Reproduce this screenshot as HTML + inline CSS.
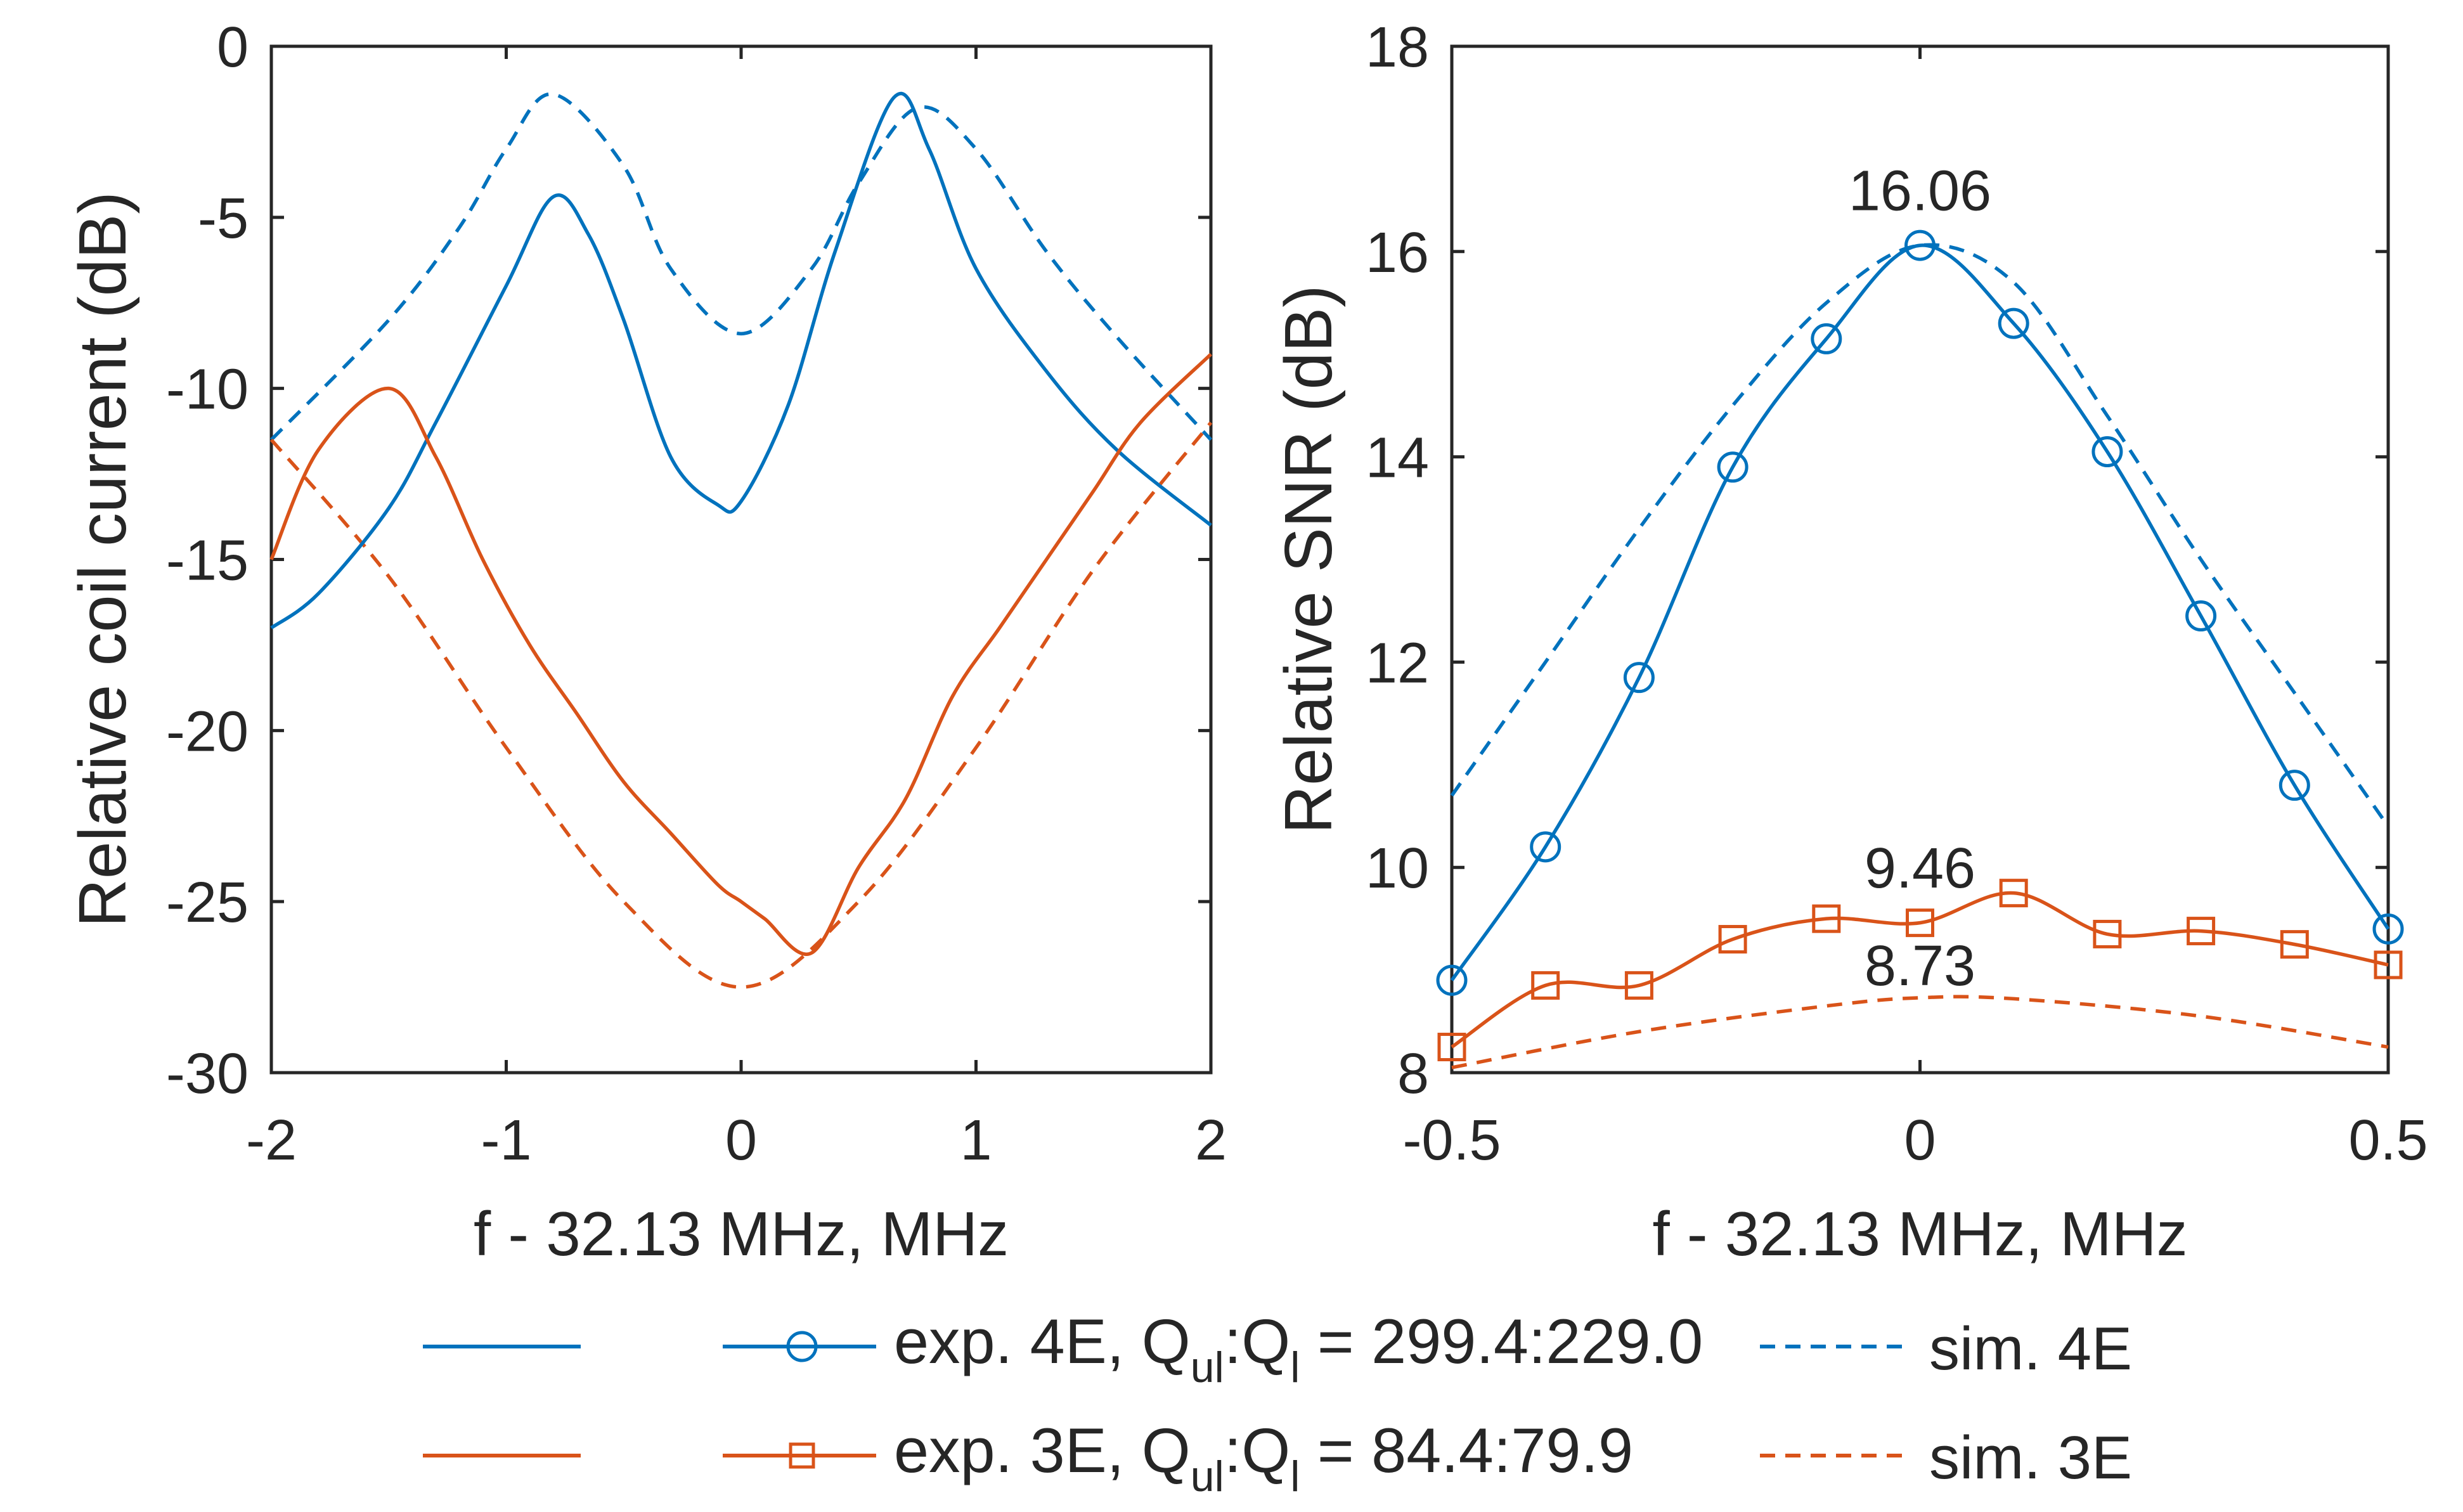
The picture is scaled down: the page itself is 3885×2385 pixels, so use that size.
<!DOCTYPE html>
<html><head><meta charset="utf-8"><style>
body{margin:0;background:#fff}
svg{display:block}
text{font-family:"Liberation Sans",sans-serif;fill:#262626}
</style></head><body>
<svg id="fig" width="3885" height="2385" viewBox="0 0 3885 2385">
<g id="L"></g>
<g id="R"></g>
<g id="legend">
  <line x1="667" y1="2124" x2="916" y2="2124" stroke="#0072BD" stroke-width="6"/>
  <line x1="667" y1="2296" x2="916" y2="2296" stroke="#D95319" stroke-width="6"/>
  <line x1="1140" y1="2124" x2="1382" y2="2124" stroke="#0072BD" stroke-width="6"/>
  <ellipse cx="1265" cy="2124" rx="22" ry="22" fill="none" stroke="#0072BD" stroke-width="5"/>
  <text x="1410" y="2150" font-size="99">exp. 4E, Q<tspan font-size="68" dy="30">ul</tspan><tspan dy="-30">:Q</tspan><tspan font-size="68" dy="30">l</tspan><tspan dy="-30"> = 299.4:229.0</tspan></text>
  <line x1="1140" y1="2296" x2="1382" y2="2296" stroke="#D95319" stroke-width="6"/>
  <rect x="1247" y="2278" width="36" height="36" fill="none" stroke="#D95319" stroke-width="5"/>
  <text x="1410" y="2322" font-size="99">exp. 3E, Q<tspan font-size="68" dy="30">ul</tspan><tspan dy="-30">:Q</tspan><tspan font-size="68" dy="30">l</tspan><tspan dy="-30"> = 84.4:79.9</tspan></text>
  <line x1="2776" y1="2124" x2="3000" y2="2124" stroke="#0072BD" stroke-width="6" stroke-dasharray="24,16"/>
  <text x="3043" y="2160" font-size="96">sim. 4E</text>
  <line x1="2776" y1="2296" x2="3000" y2="2296" stroke="#D95319" stroke-width="6" stroke-dasharray="24,16"/>
  <text x="3043" y="2332" font-size="96">sim. 3E</text>
</g>
</svg>
<script>
// Left chart data
const lBlueX = [-2,-1.8,-1.5,-1.3,-1,-0.8,-0.65,-0.5,-0.3,-0.1,0,0.2,0.4,0.65,0.8,1,1.3,1.6,2];
const lBlueY = [-17,-16,-13.5,-11,-7,-4.4,-5.5,-8,-12,-13.4,-13.3,-10.5,-6,-1.5,-3,-6.5,-9.5,-11.8,-14];
const lBlueSimX = [-2,-1.5,-1.2,-1,-0.8,-0.5,-0.3,0,0.3,0.5,0.75,1,1.3,1.6,2];
const lBlueSimY = [-11.5,-8,-5.3,-3,-1.4,-3.5,-6.5,-8.4,-6.5,-4,-1.8,-3,-6,-8.5,-11.5];
const lOrX = [-2,-1.8,-1.5,-1.3,-1.1,-0.9,-0.7,-0.5,-0.3,-0.1,0,0.1,0.3,0.5,0.7,0.9,1.1,1.3,1.5,1.7,2];
const lOrY = [-15,-11.8,-10,-12,-15,-17.5,-19.5,-21.5,-23,-24.5,-25,-25.5,-26.5,-24,-22,-19,-17,-15,-13,-11,-9];
const lOrSimX = [-2,-1.5,-1,-0.5,0,0.5,1,1.5,2];
const lOrSimY = [-11.5,-15.5,-20.5,-25,-27.5,-25,-20.5,-15.3,-11];
const lXTicks = [-2,-1,0,1,2];
const lYTicks = [0,-5,-10,-15,-20,-25,-30];
// Right chart data
const rX = [-0.5,-0.4,-0.3,-0.2,-0.1,0,0.1,0.2,0.3,0.4,0.5];
const rBlue = [8.9,10.2,11.85,13.9,15.15,16.06,15.3,14.05,12.45,10.8,9.4];
const rOrange = [8.25,8.85,8.85,9.3,9.5,9.46,9.75,9.35,9.38,9.25,9.05];
const rBlueSim = [10.7,12,13.3,14.5,15.5,16.06,15.7,14.4,13,11.7,10.4];
const rOrSimX = [-0.5,-0.3,-0.1,0,0.1,0.3,0.5];
const rOrSim = [8.05,8.4,8.65,8.73,8.72,8.55,8.25];
const rXTicks = [-0.5,0,0.5];
const rYTicks = [8,10,12,14,16,18];
const NS='http://www.w3.org/2000/svg';
function mk(p,tag,a){const e=document.createElementNS(NS,tag);for(const k in a)e.setAttribute(k,a[k]);p.appendChild(e);return e;}
function curve(pts){let d='M'+pts[0][0]+','+pts[0][1];for(let i=0;i<pts.length-1;i++){const p0=pts[Math.max(0,i-1)],p1=pts[i],p2=pts[i+1],p3=pts[Math.min(pts.length-1,i+2)];
const c1=[p1[0]+(p2[0]-p0[0])/6,p1[1]+(p2[1]-p0[1])/6],c2=[p2[0]-(p3[0]-p1[0])/6,p2[1]-(p3[1]-p1[1])/6];d+=' C'+c1+' '+c2+' '+p2;}return d;}
function axes(g,x0,x1,y0,y1,xmin,xmax,ymin,ymax,xt,yt,xtitle,ytitle,ytx,name){
 const sx=v=>x0+(v-xmin)/(xmax-xmin)*(x1-x0), sy=v=>y1-(v-ymin)/(ymax-ymin)*(y1-y0);
 xt.forEach(v=>{const x=sx(v);
  const t=mk(g,'line',{x1:x,x2:x,y1:y1,y2:y1-20,stroke:'#262626','stroke-width':5});
  
  const t2=mk(g,'line',{x1:x,x2:x,y1:y0,y2:y0+20,stroke:'#262626','stroke-width':5});
  
  const l=mk(g,'text',{x:x,y:y1+137,'font-size':90,'text-anchor':'middle'});l.textContent=v;
  });
 yt.forEach(v=>{const y=sy(v);
  const t=mk(g,'line',{x1:x0,x2:x0+20,y1:y,y2:y,stroke:'#262626','stroke-width':5});
  
  const t2=mk(g,'line',{x1:x1,x2:x1-20,y1:y,y2:y,stroke:'#262626','stroke-width':5});
  
  const l=mk(g,'text',{x:x0-36,y:y+32,'font-size':90,'text-anchor':'end'});l.textContent=v;
  });
 const b=mk(g,'rect',{x:x0,y:y0,width:x1-x0,height:y1-y0,fill:'none',stroke:'#262626','stroke-width':5});
 
 const xl=mk(g,'text',{x:(x0+x1)/2,y:1980,'font-size':98,'text-anchor':'middle'});xl.textContent=xtitle;
 
 const yl=mk(g,'text',{x:0,y:0,'font-size':106,'text-anchor':'middle',transform:'translate('+ytx+','+((y0+y1)/2)+') rotate(-90)'});yl.textContent=ytitle;
 
 return [sx,sy];}
// left
const L=document.getElementById('L');
const [lx,ly]=axes(L,428,1910,73,1692,-2,2,-30,0,lXTicks,lYTicks,'f - 32.13 MHz, MHz','Relative coil current (dB)',198,'left');
function series(g,xs,ys,sx,sy,color,dash,name){const p=mk(g,'path',{d:curve(xs.map((x,i)=>[sx(x),sy(ys[i])])),fill:'none',stroke:color,'stroke-width':5.5});
 if(dash)p.setAttribute('stroke-dasharray','24,16');
 }
series(L,lBlueSimX,lBlueSimY,lx,ly,'#0072BD',true,'sim-4e-current-line');
series(L,lOrSimX,lOrSimY,lx,ly,'#D95319',true,'sim-3e-current-line');
series(L,lBlueX,lBlueY,lx,ly,'#0072BD',false,'exp-4e-current-line');
series(L,lOrX,lOrY,lx,ly,'#D95319',false,'exp-3e-current-line');
// right
const R=document.getElementById('R');
const [rx,ry]=axes(R,2290,3767,73,1692,-0.5,0.5,8,18,rXTicks,rYTicks,'f - 32.13 MHz, MHz','Relative SNR (dB)',2100,'right');
series(R,rX,rBlueSim,rx,ry,'#0072BD',true,'sim-4e-snr-line');
series(R,rOrSimX,rOrSim,rx,ry,'#D95319',true,'sim-3e-snr-line');
series(R,rX,rBlue,rx,ry,'#0072BD',false,'exp-4e-snr-line');
series(R,rX,rOrange,rx,ry,'#D95319',false,'exp-3e-snr-line');
rX.forEach((x,i)=>{
 const c=mk(R,'circle',{cx:rx(x),cy:ry(rBlue[i]),r:22,fill:'none',stroke:'#0072BD','stroke-width':5});
 
 const s=mk(R,'rect',{x:rx(x)-20,y:ry(rOrange[i])-20,width:40,height:40,fill:'none',stroke:'#D95319','stroke-width':5});
 
});
const ann=[[0,16.06,16.6,'16.06'],[0,9.46,10.0,'9.46'],[0,8.73,9.05,'8.73']];
ann.forEach(a=>{const t=mk(R,'text',{x:rx(a[0]),y:ry(a[2])+32,'font-size':90,'text-anchor':'middle',fill:'#000'});t.textContent=a[3];
 });
</script>
</body></html>
